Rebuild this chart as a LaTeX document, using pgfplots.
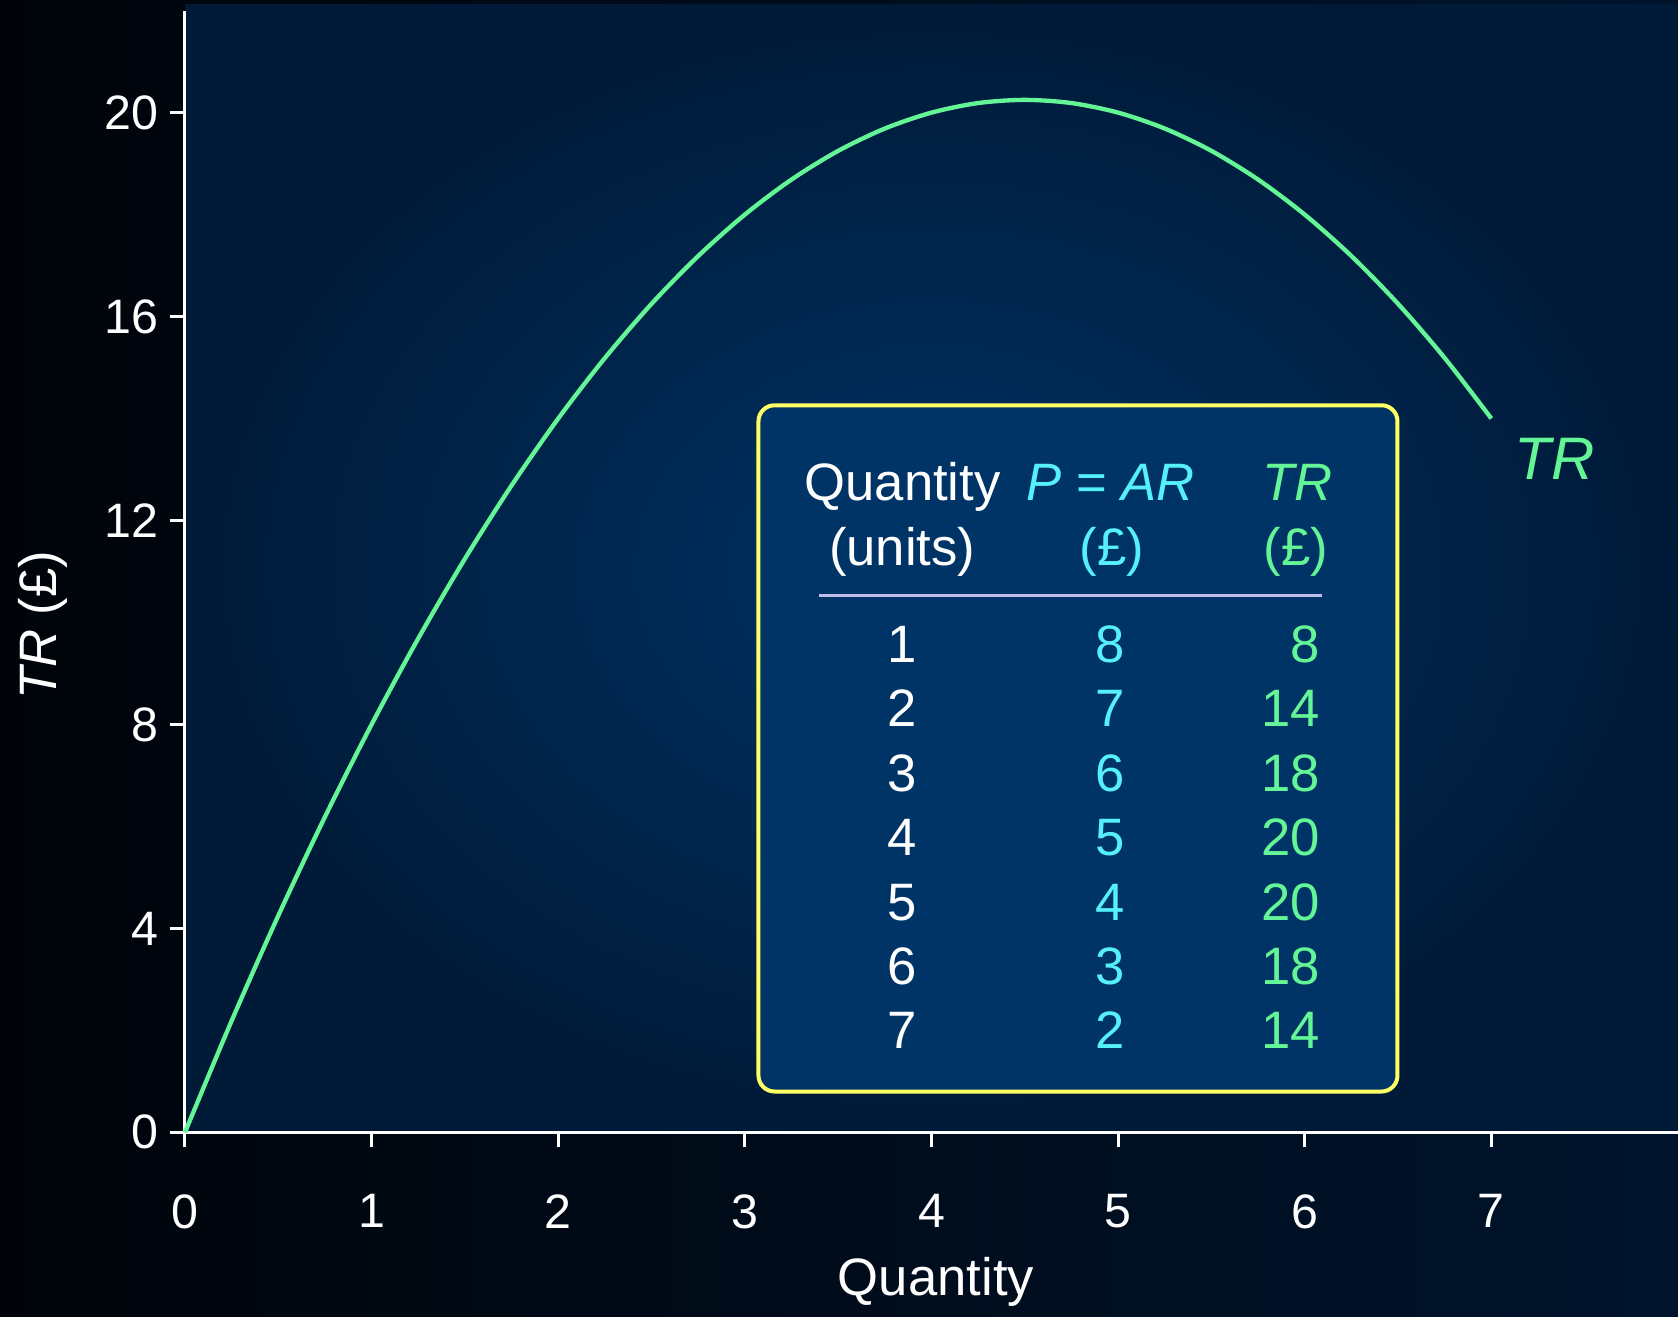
\documentclass[border=0pt]{standalone}
\usepackage{pgfplots}
\pgfplotsset{compat=1.18}
\usepackage{fontspec}
\setmainfont{Liberation Sans}
\definecolor{trgreen}{RGB}{100,245,150}
\definecolor{arcyan}{RGB}{85,240,250}
\definecolor{boxblue}{RGB}{0,52,102}
\definecolor{boxyellow}{RGB}{255,255,102}
\definecolor{rulecol}{RGB}{190,190,235}
\definecolor{bgdark}{RGB}{0,4,10}
\definecolor{bgmid}{RGB}{0,20,44}
\definecolor{plotin}{RGB}{0,50,100}
\definecolor{plotout}{RGB}{0,26,56}
\newcommand{\trow}[4]{%
  \node[white, anchor=base] at (axis cs:3.843,#4) {#1};
  \node[arcyan, anchor=base] at (axis cs:4.959,#4) {#2};
  \node[trgreen, anchor=base east] at (axis cs:6.085,#4) {#3};}
\begin{document}
\begin{tikzpicture}
\useasboundingbox (-55.5pt,-55.4pt) rectangle (447.9pt,339.7pt);
\shade[left color=bgdark, right color=bgmid] (-55.5pt,-55.4pt) rectangle (447.9pt,339.7pt);
\shade[inner color=plotin, outer color=plotout] (0pt,0pt) rectangle (447.9pt,338.2pt);
\begin{axis}[
  at={(0pt,0pt)}, anchor=origin,
  scale only axis, width=447.9pt, height=336.5pt,
  xmin=0, xmax=8, ymin=0, ymax=22,
  axis x line=bottom, axis y line=left,
  axis line style={-, white, line width=0.9pt},
  xtick={0,1,...,7}, ytick={0,4,8,12,16,20},
  tick align=outside, major tick length=4.5pt,
  tick style={white, line width=0.9pt},
  /pgf/number format/assume math mode=true,
  ticklabel style={white, font=\fontsize{14.5}{16}\selectfont},
  xticklabel shift=10.6pt,
  xlabel={Quantity},
  ylabel={\textit{TR} (£)},
  xlabel style={at={(axis description cs:0.503,-0.1337)}, anchor=center, white, font=\fontsize{15.8}{18}\selectfont},
  ylabel style={at={(axis description cs:-0.0953,0.452)}, anchor=center, white, font=\fontsize{15.8}{18}\selectfont},
  clip=false,
]
\addplot[trgreen, line width=1.3pt, smooth] coordinates {
(0,0) (0.25,2.1875) (0.5,4.25) (0.75,6.1875) (1,8) (1.25,9.6875) (1.5,11.25)
(1.75,12.6875) (2,14) (2.25,15.1875) (2.5,16.25) (2.75,17.1875) (3,18)
(3.25,18.6875) (3.5,19.25) (3.75,19.6875) (4,20) (4.25,20.1875) (4.5,20.25)
(4.75,20.1875) (5,20) (5.25,19.6875) (5.5,19.25) (5.75,18.6875) (6,18)
(6.25,17.1875) (6.5,16.25) (6.75,15.1875) (7,14)
};
\node[trgreen, font=\fontsize{18}{20}\selectfont\itshape] at (axis cs:7.34,13.2) {TR};
\draw[rounded corners=4.8pt, fill=boxblue, draw=boxyellow, line width=1.2pt]
  (axis cs:3.073,0.80) rectangle (axis cs:6.497,14.26);
\begin{scope}[every node/.style={font=\fontsize{15.8}{18}\selectfont, inner sep=0pt}]
\node[white, anchor=base] at (axis cs:3.845,12.39) {Quantity};
\node[white, anchor=base] at (axis cs:3.843,11.11) {(units)};
\node[arcyan, anchor=base] at (axis cs:4.960,12.39) {\textit{P} = \textit{AR}};
\node[arcyan, anchor=base] at (axis cs:4.966,11.11) {(£)};
\node[trgreen, anchor=base] at (axis cs:5.963,12.39) {\textit{TR}};
\node[trgreen, anchor=base] at (axis cs:5.952,11.11) {(£)};
\draw[rulecol, line width=0.9pt] (axis cs:3.398,10.53) -- (axis cs:6.093,10.53);
\trow{1}{8}{8}{9.21}
\trow{2}{7}{14}{7.95}
\trow{3}{6}{18}{6.69}
\trow{4}{5}{20}{5.42}
\trow{5}{4}{20}{4.16}
\trow{6}{3}{18}{2.90}
\trow{7}{2}{14}{1.64}
\end{scope}
\end{axis}
\end{tikzpicture}
\end{document}
